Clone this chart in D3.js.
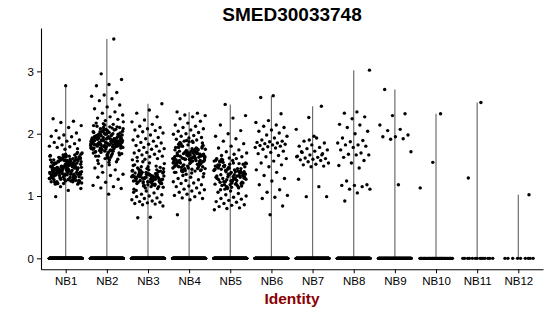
<!DOCTYPE html>
<html>
<head>
<meta charset="utf-8">
<script src="https://cdn.jsdelivr.net/npm/d3@7"></script>
<style>
  body { margin: 0; background: #fff; }
  text { font-family: "Liberation Sans", Arial, sans-serif; }
</style>
</head>
<body>
<script>
// expression values (non-zero cells), one array per cluster
var groups = ["NB1", "NB2", "NB3", "NB4", "NB5", "NB6", "NB7", "NB8", "NB9", "NB10", "NB11", "NB12"];

var nb1 = [2.77,2.24,2.20,2.18,2.13,2.10,2.05,2.01,1.98,1.96,1.95,1.93,1.90,1.88,1.86,1.84,1.82,1.80,1.79,1.78,1.76,1.75,
  1.42,1.23,1.61,1.35,1.52,1.19,1.47,1.66,1.29,1.56,1.38,1.25,1.63,1.44,1.32,1.58,1.21,1.49,1.37,1.68,
  1.27,1.54,1.41,1.33,1.60,1.46,1.22,1.51,1.36,1.64,1.30,1.45,1.57,1.24,1.39,1.53,1.28,1.67,1.43,1.34,
  1.59,1.20,1.48,1.40,1.62,1.31,1.55,1.26,1.45,1.37,1.69,1.50,1.23,1.42,1.58,1.33,1.47,1.29,1.61,1.39,
  1.52,1.25,1.44,1.65,1.35,1.56,1.21,1.48,1.40,1.30,1.59,1.46,1.27,1.53,1.38,1.63,1.32,1.50,1.43,1.24,
  1.57,1.36,1.66,1.41,1.28,1.54,1.45,1.19,1.49,1.34,1.60,1.39,1.51,1.26,1.44,1.62,1.31,1.47,1.37,1.55,
  1.22,1.42,1.58,1.35,1.48,1.29,1.64,1.40,1.53,1.33,1.46,1.25,1.57,1.38,1.50,1.43,1.30,1.61,1.36,1.52,
  1.20,1.45,1.67,1.39,1.49,1.27,1.55,1.41,1.34,1.59,1.47,1.23,1.51,1.37,1.63,1.44,1.32,1.56,1.40,1.28,
  1.54,1.46,1.70,1.35,1.48,1.26,1.42,1.60,1.38,1.52,1.31,1.45,1.58,1.24,1.43,1.36,1.65,1.50,1.33,1.47,
  1.39,1.55,1.21,1.44,1.57,1.30,1.49,1.41,1.62,1.34,1.53,1.27,1.46,1.38,1.59,1.43,1.35,1.51,1.29,1.48,
  1.15,1.12,1.09,0.99];

var nb2 = [3.52,2.96,2.87,2.79,2.77,2.66,2.62,2.60,2.56,2.53,2.46,2.43,2.40,2.35,2.33,2.30,2.27,2.25,2.23,2.21,
  1.88,1.72,2.02,1.81,1.95,1.64,1.90,2.10,1.77,1.85,1.99,1.69,1.92,1.83,2.06,1.75,1.87,1.58,1.97,1.80,
  2.14,1.91,1.73,1.86,2.01,1.67,1.94,1.79,1.89,2.08,1.62,1.84,1.96,1.76,2.03,1.88,1.70,1.93,1.82,2.17,
  1.55,1.90,1.78,1.98,1.86,1.66,2.05,1.83,1.92,1.74,1.89,2.11,1.80,1.95,1.60,1.87,2.00,1.77,1.91,1.84,
  1.71,2.07,1.94,1.81,1.88,1.52,1.97,1.85,2.13,1.76,1.90,1.68,2.02,1.82,1.93,1.79,1.87,2.09,1.73,1.96,
  1.63,1.89,1.84,2.04,1.78,1.92,1.57,1.99,1.86,1.75,2.15,1.83,1.91,1.70,1.95,1.80,2.06,1.88,1.65,1.94,
  1.85,2.00,1.77,1.90,1.48,1.98,1.82,2.12,1.87,1.72,1.93,1.79,2.03,1.86,1.61,1.96,1.84,1.89,2.19,1.74,
  1.92,1.81,2.07,1.69,1.88,1.97,1.78,1.54,1.94,1.85,2.01,1.76,1.90,1.83,2.10,1.66,1.95,1.87,1.80,2.04,
  1.73,1.91,1.59,1.99,1.86,1.82,2.08,1.77,1.93,1.71,1.89,2.16,1.84,1.97,1.64,1.88,1.79,2.02,1.92,1.75,
  1.86,1.50,1.94,2.11,1.81,1.90,1.68,1.98,1.85,2.05,
  1.45,1.42,1.38,1.35,1.33,1.30,1.27,1.22,1.17,1.15,1.13,1.12,1.03];

var nb3 = [2.48,2.38,2.33,2.27,2.22,2.19,2.15,2.12,2.10,2.08,2.06,2.05,2.03,2.01,1.98,1.96,1.94,1.92,1.90,1.88,
  1.86,1.85,1.83,1.81,1.80,1.78,1.76,1.75,1.73,1.72,1.70,1.69,1.67,1.66,1.64,1.63,1.62,1.60,1.59,1.58,
  1.32,1.25,1.40,1.18,1.29,1.36,1.21,1.44,1.27,1.33,1.15,1.38,1.24,1.30,1.47,1.20,1.35,1.28,1.42,1.17,
  1.31,1.26,1.39,1.22,1.34,1.50,1.19,1.29,1.37,1.23,1.45,1.30,1.13,1.33,1.27,1.41,1.21,1.36,1.25,1.48,
  1.16,1.32,1.28,1.43,1.24,1.35,1.11,1.30,1.38,1.26,1.53,1.20,1.34,1.29,1.40,1.18,1.31,1.46,1.23,1.37,
  1.27,1.55,1.14,1.33,1.22,1.39,1.30,1.49,1.19,1.35,1.26,1.42,1.09,1.32,1.28,1.52,1.21,1.36,1.24,1.44,
  1.31,1.17,1.38,1.27,1.34,1.56,1.12,1.29,1.41,1.25,1.33,1.20,1.47,1.30,1.36,1.23,1.39,1.15,1.32,1.28,
  1.08,1.06,1.05,1.03,1.02,1.00,0.99,0.97,0.96,0.94,0.92,0.91,0.90,0.89,0.88,0.87,0.86,0.84,0.66,0.65];

var nb4 = [2.35,2.33,2.30,2.29,2.27,2.24,2.20,2.17,2.14,2.12,2.10,2.08,2.06,2.04,2.02,2.00,1.99,1.97,1.96,1.94,1.93,1.91,1.90,1.88,
  1.58,1.43,1.72,1.51,1.66,1.38,1.62,1.80,1.47,1.69,1.55,1.75,1.41,1.60,1.86,1.53,1.64,1.45,1.78,1.57,
  1.68,1.36,1.61,1.83,1.49,1.73,1.56,1.65,1.40,1.77,1.59,1.52,1.70,1.44,1.63,1.88,1.54,1.67,1.48,1.74,
  1.60,1.39,1.81,1.57,1.65,1.46,1.71,1.53,1.62,1.84,1.42,1.68,1.58,1.76,1.50,1.63,1.37,1.79,1.55,1.66,
  1.47,1.72,1.61,1.85,1.52,1.69,1.44,1.59,1.75,1.56,1.64,1.41,1.82,1.58,1.70,1.49,1.67,1.54,1.78,1.62,
  1.35,1.60,1.73,1.46,1.65,1.87,1.53,1.68,1.43,1.61,1.76,1.57,1.50,1.71,1.63,1.40,1.80,1.55,1.66,1.48,
  1.74,1.59,1.45,1.69,1.83,1.52,1.64,1.38,1.77,1.60,1.56,1.72,1.47,1.67,1.89,1.54,1.62,1.42,1.79,1.58,
  1.65,1.51,1.70,1.44,1.61,1.86,1.57,1.68,1.49,1.75,
  1.33,1.31,1.30,1.28,1.26,1.25,1.23,1.21,1.20,1.18,1.16,1.15,1.13,1.11,1.10,1.08,1.06,
  1.05,1.03,1.01,0.99,0.97,0.96,0.94,0.70];

var nb5 = [2.47,2.29,2.25,2.14,2.05,2.00,1.96,1.92,1.88,1.84,1.80,1.77,1.74,1.71,1.69,1.67,1.65,1.63,1.61,1.60,
  1.32,1.18,1.47,1.25,1.55,1.38,1.12,1.43,1.29,1.58,1.21,1.36,1.50,1.15,1.41,1.27,1.53,1.34,1.20,1.46,
  1.30,1.60,1.23,1.39,1.14,1.49,1.33,1.26,1.56,1.42,1.17,1.37,1.51,1.28,1.44,1.11,1.35,1.57,1.22,1.40,
  1.31,1.48,1.19,1.54,1.36,1.24,1.45,1.13,1.39,1.52,1.28,1.43,1.16,1.34,1.59,1.25,1.47,1.30,1.21,1.50,
  1.37,1.14,1.42,1.27,1.55,1.33,1.18,1.46,1.40,1.23,1.53,1.31,1.10,1.44,1.35,1.57,1.20,1.48,1.29,1.38,
  1.26,1.52,1.15,1.41,1.34,1.59,1.22,1.45,1.32,1.17,1.49,1.36,1.24,1.56,1.30,1.43,1.19,1.39,1.28,1.51,
  1.08,1.06,1.04,1.02,1.00,0.98,0.96,0.95,0.93,0.91,0.90,0.88,0.86,0.85,0.83,0.81,0.80,0.78];

var nb6 = [2.61,2.58,2.32,2.21,2.18,2.14,2.12,2.10,2.06,2.04,2.01,1.98,1.96,1.93,1.90,1.88,1.87,1.86,1.85,1.84,
  1.83,1.82,1.81,1.80,1.79,1.78,1.77,1.75,1.72,1.70,1.68,1.65,1.63,1.60,1.56,1.53,1.50,1.47,1.42,1.38,
  1.33,1.28,1.24,1.18,1.10,1.06,1.01,0.98,0.96,0.84,0.70];

var nb7 = [2.44,2.26,2.07,1.93,1.88,1.85,1.82,1.80,1.78,1.76,1.74,1.72,1.70,1.68,1.66,1.64,1.62,1.61,1.60,
  1.59,1.58,1.57,1.55,1.53,1.51,1.50,1.48,1.47,1.27,1.15,0.99,0.99,1.96,1.71,1.66,1.90,1.63];

var nb8 = [3.02,2.35,2.33,2.27,2.24,2.15,2.14,2.10,2.04,2.00,1.93,1.89,1.87,1.85,1.82,1.82,1.80,1.78,1.74,1.69,
  1.67,1.66,1.66,1.62,1.57,1.53,1.49,1.45,1.24,1.18,1.17,1.17,1.15,1.11,1.11,1.05,0.92];

var nb9 = [2.71,2.32,2.29,2.14,2.07,2.05,1.98,1.95,1.95,1.92,1.91,1.71,1.18];
var nb10 = [1.54,1.13,2.32];
var nb11 = [2.50,1.29];
var nb12 = [1.02];

// cells with zero expression in each cluster (the flat band at 0)
var zeroCounts = [500, 450, 450, 450, 450, 350, 350, 300, 200, 45, 14, 9];

var yTicks = [0, 1, 2, 3];

var values = [nb1, nb2, nb3, nb4, nb5, nb6, nb7, nb8, nb9, nb10, nb11, nb12];

var width = 550, height = 316,
    margin = {top: 28, right: 7, bottom: 46.7, left: 41};

var svg = d3.select("body").append("svg")
    .attr("width", width)
    .attr("height", height);

var allMax = d3.max(values, v => d3.max(v)),
    pad = allMax * 0.05;

var x = d3.scalePoint().domain(groups).range([margin.left, width - margin.right]).padding(0.6),
    y = d3.scaleLinear().domain([-pad, allMax + pad]).range([height - margin.bottom, margin.top]);

// quasi-even horizontal jitter, 40% of the spacing each way
function jitter(i, g) {
  var u = (i * 0.6180339887 + g * 0.2113 + 0.5) % 1;
  return (u - 0.5) * 0.8 * x.step();
}

// build point table
var points = [];
groups.forEach(function(name, g) {
  for (var k = 0; k < zeroCounts[g]; k++) points.push({group: name, g: g, v: 0, i: k + 1000});
  values[g].forEach(function(v, k) { points.push({group: name, g: g, v: v, i: k}); });
});

// violins collapse to a thin stem from 0 to the max
svg.append("g")
    .selectAll("line")
    .data(groups)
    .enter().append("line")
    .attr("x1", d => x(d))
    .attr("x2", d => x(d))
    .attr("y1", y(0))
    .attr("y2", (d, g) => y(d3.max(values[g])))
    .attr("stroke", "#6e6e6e")
    .attr("stroke-width", 1.2);

svg.append("g")
    .selectAll("circle")
    .data(points)
    .enter().append("circle")
    .attr("cx", d => x(d.group) + jitter(d.i, d.g))
    .attr("cy", d => y(d.v))
    .attr("r", 1.7)
    .attr("fill", "#000");

// axes
var gx = svg.append("g")
    .attr("transform", `translate(0, ${height - margin.bottom})`)
    .call(d3.axisBottom(x).tickSize(4).tickSizeOuter(0).tickPadding(4));
var gy = svg.append("g")
    .attr("transform", `translate(${margin.left}, 0)`)
    .call(d3.axisLeft(y).tickValues(yTicks).tickFormat(d3.format("d"))
      .tickSize(4).tickSizeOuter(0).tickPadding(3));

[gx, gy].forEach(function(a) {
  a.select(".domain").attr("stroke", "#000").attr("stroke-width", 1.1);
  a.selectAll(".tick line").attr("stroke", "#000").attr("stroke-width", 1);
  a.selectAll(".tick text")
      .attr("fill", "#000")
      .style("font-size", "11.5px")
      .style("font-family", '"Liberation Sans", Arial, sans-serif');
});

svg.append("text")
    .text("SMED30033748")
    .attr("x", (margin.left + width - margin.right) / 2)
    .attr("y", 21)
    .attr("text-anchor", "middle")
    .style("font-weight", "bold")
    .style("font-size", "19px");

svg.append("text")
    .text("Identity")
    .attr("x", (margin.left + width - margin.right) / 2)
    .attr("y", 303.5)
    .attr("text-anchor", "middle")
    .attr("fill", "#8b0000")
    .style("font-weight", "bold")
    .style("font-size", "15.5px");
</script>
</body>
</html>
